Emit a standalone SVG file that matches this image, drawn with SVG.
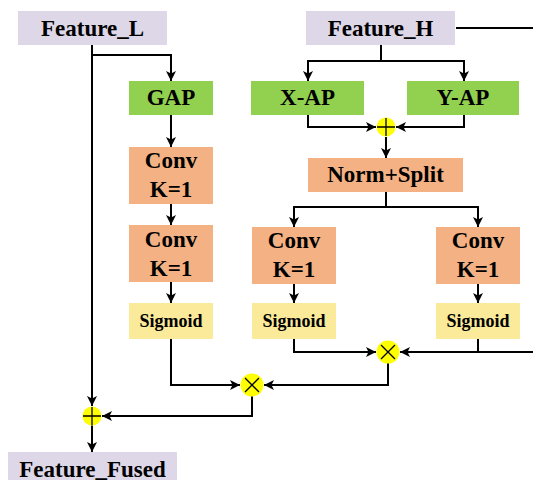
<svg xmlns="http://www.w3.org/2000/svg" width="533" height="480" viewBox="0 0 533 480">
  <style>
    .feat { fill: #ddd7e8; }
    .ap { fill: #92d050; }
    .conv { fill: #f4b183; }
    .sig { fill: #faea9a; }
    .op { fill: #ffff00; }
    .sym { stroke: #000; stroke-width: 1.3; fill: none; }
    text { font-family: "Liberation Serif", "Times New Roman", serif; font-weight: bold; fill: #000; text-anchor: middle; }
    .t23 { font-size: 23px; }
    .t18 { font-size: 18px; }
    .wire { stroke: #000; stroke-width: 2; fill: none; }
  </style>
  <defs>
    <marker id="arrow" markerUnits="userSpaceOnUse" markerWidth="11" markerHeight="11" refX="10" refY="5" orient="auto">
      <path d="M0,0 L10,5 L0,10 L2.5,5 z" fill="#000"/>
    </marker>
  </defs>

  <!-- nodes -->
  <g id="feature-l"><rect class="feat" x="18" y="11" width="149" height="34"/><text class="t23" x="92.5" y="35.5">Feature_L</text></g>
  <g id="feature-h"><rect class="feat" x="306" y="11" width="149" height="34"/><text class="t23" x="380.5" y="35.5">Feature_H</text></g>
  <g id="gap"><rect class="ap" x="129" y="81" width="84" height="34"/><text class="t23" x="171" y="105">GAP</text></g>
  <g id="x-ap"><rect class="ap" x="251" y="81" width="113" height="34"/><text class="t23" x="307.5" y="105">X-AP</text></g>
  <g id="y-ap"><rect class="ap" x="407" y="81" width="112" height="34"/><text class="t23" x="463" y="105">Y-AP</text></g>
  <g id="conv-l1"><rect class="conv" x="129" y="147" width="84" height="57"/><text class="t23" x="171" y="168">Conv</text><text class="t23" x="171" y="197">K=1</text></g>
  <g id="conv-l2"><rect class="conv" x="129" y="225" width="84" height="57"/><text class="t23" x="171" y="246.5">Conv</text><text class="t23" x="171" y="275.5">K=1</text></g>
  <g id="sigmoid-l"><rect class="sig" x="129" y="303" width="84" height="36"/><text class="t18" x="171" y="327">Sigmoid</text></g>
  <g id="norm-split"><rect class="conv" x="308" y="158" width="155" height="34"/><text class="t23" x="385.5" y="182">Norm+Split</text></g>
  <g id="conv-m"><rect class="conv" x="252" y="227" width="84" height="57"/><text class="t23" x="294" y="248">Conv</text><text class="t23" x="294" y="277">K=1</text></g>
  <g id="conv-r"><rect class="conv" x="436" y="227" width="84" height="57"/><text class="t23" x="478" y="248">Conv</text><text class="t23" x="478" y="277">K=1</text></g>
  <g id="sigmoid-m"><rect class="sig" x="252" y="303" width="84" height="36"/><text class="t18" x="294" y="327">Sigmoid</text></g>
  <g id="sigmoid-r"><rect class="sig" x="436" y="303" width="84" height="36"/><text class="t18" x="478" y="327">Sigmoid</text></g>
  <g id="feature-fused"><rect class="feat" x="8" y="452" width="169" height="34"/><text class="t23" x="92.5" y="477">Feature_Fused</text></g>

  <g id="add-h"><circle class="op" cx="386" cy="127" r="9.5"/><path class="sym" d="M377,127 H395 M386,118 V136"/></g>
  <g id="mul-h"><circle class="op" cx="388" cy="352" r="11.5"/><path class="sym" d="M381,345 L395,359 M395,345 L381,359"/></g>
  <g id="mul-out"><circle class="op" cx="252" cy="385" r="11.5"/><path class="sym" d="M245,378 L259,392 M259,378 L245,392"/></g>
  <g id="add-out"><circle class="op" cx="92" cy="416" r="9.5"/><path class="sym" d="M83,416 H101 M92,407 V425"/></g>

  <!-- connectors -->
  <g id="connectors">
    <path class="wire" d="M92,45 V406" marker-end="url(#arrow)"/>
    <path class="wire" d="M92,55 H171 V81" marker-end="url(#arrow)"/>
    <path class="wire" d="M171,115 V147" marker-end="url(#arrow)"/>
    <path class="wire" d="M171,204 V225" marker-end="url(#arrow)"/>
    <path class="wire" d="M171,282 V303" marker-end="url(#arrow)"/>
    <path class="wire" d="M171,339 V385 H240" marker-end="url(#arrow)"/>
    <path class="wire" d="M456,28 H533"/>
    <path class="wire" d="M381,45 V61 H308 V81" marker-end="url(#arrow)"/>
    <path class="wire" d="M381,61 H464 V81" marker-end="url(#arrow)"/>
    <path class="wire" d="M308,115 V127 H376" marker-end="url(#arrow)"/>
    <path class="wire" d="M464,115 V127 H396" marker-end="url(#arrow)"/>
    <path class="wire" d="M386,137 V158" marker-end="url(#arrow)"/>
    <path class="wire" d="M386,192 V207 H294 V227" marker-end="url(#arrow)"/>
    <path class="wire" d="M386,207 H478 V227" marker-end="url(#arrow)"/>
    <path class="wire" d="M294,284 V303" marker-end="url(#arrow)"/>
    <path class="wire" d="M478,284 V303" marker-end="url(#arrow)"/>
    <path class="wire" d="M294,339 V352 H376" marker-end="url(#arrow)"/>
    <path class="wire" d="M478,339 V352"/>
    <path class="wire" d="M533,352 H400" marker-end="url(#arrow)"/>
    <path class="wire" d="M388,363.5 V385 H264" marker-end="url(#arrow)"/>
    <path class="wire" d="M252,396.5 V416 H102" marker-end="url(#arrow)"/>
    <path class="wire" d="M92,425.5 V452" marker-end="url(#arrow)"/>
  </g>
</svg>
